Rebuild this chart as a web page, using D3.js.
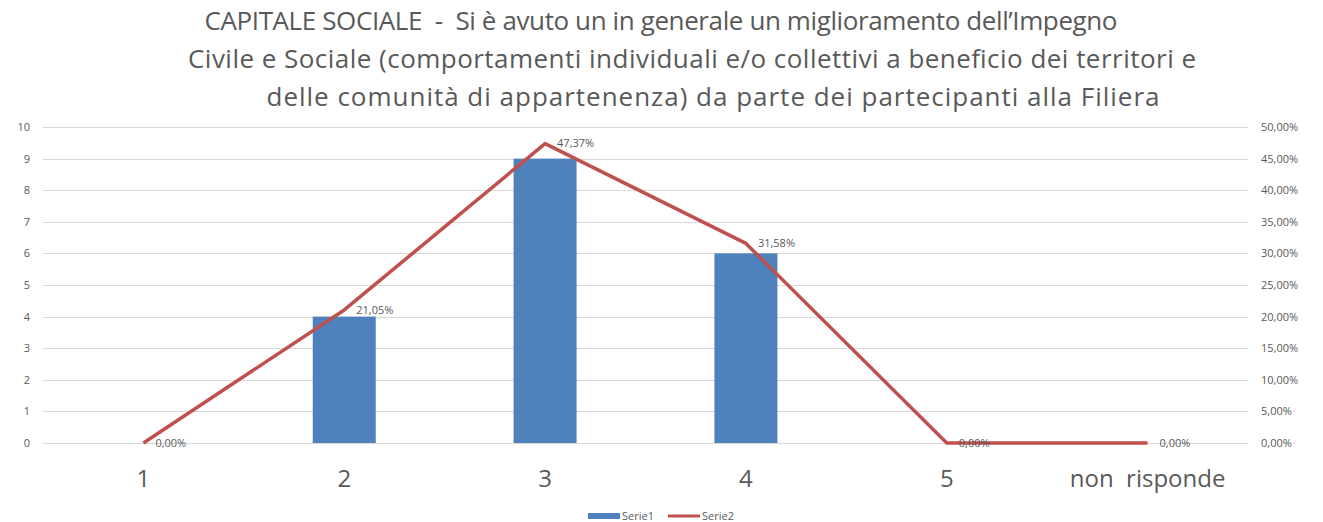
<!DOCTYPE html>
<html>
<head>
<meta charset="utf-8">
<script src="https://cdn.jsdelivr.net/npm/d3@7"></script>
<style>
  body { margin: 0; background: #fff; }
  svg { display: block; font-family: "Open Sans", sans-serif; }
</style>
</head>
<body>
<svg></svg>
<script>
var categories = ['1', '2', '3', '4', '5', 'non  risponde'];
var serie1 = [0, 4, 9, 6, 0, 0];
var serie2 = [0, 0.2105, 0.4737, 0.3158, 0, 0];
var leftTicks = [0, 1, 2, 3, 4, 5, 6, 7, 8, 9, 10];
var rightTicks = [0, 0.05, 0.10, 0.15, 0.20, 0.25, 0.30, 0.35, 0.40, 0.45, 0.50];
var titleLines = [
    'CAPITALE SOCIALE  -  Si è avuto un in generale un miglioramento dell\u2019Impegno',
    'Civile e Sociale (comportamenti individuali e/o collettivi a beneficio dei territori e',
    'delle comunità di appartenenza) da parte dei partecipanti alla Filiera'
];

var WIDTH = 1323, HEIGHT = 522;
var margin = { top: 127, right: 75, bottom: 79, left: 43 },
    width = WIDTH - margin.left - margin.right,
    height = HEIGHT - margin.top - margin.bottom;

var fmtPct = function (v) { return (v * 100).toFixed(2).replace('.', ',') + '%'; };

var svg = d3.select('svg').attr('width', WIDTH).attr('height', HEIGHT);

// title (line widths matched to the reference)
var titleCenters = [661, 692, 713];
var titleWidths = [913, 1008, 893];
svg.selectAll('.title').data(titleLines).enter().append('text')
    .attr('class', 'title')
    .attr('x', function (d, i) { return titleCenters[i]; })
    .attr('y', function (d, i) { return 30 + i * 38; })
    .attr('text-anchor', 'middle')
    .attr('font-size', 26)
    .attr('fill', '#595959')
    .attr('textLength', function (d, i) { return titleWidths[i]; })
    .attr('lengthAdjust', 'spacing')
    .style('white-space', 'pre')
    .text(function (d) { return d; });

var g = svg.append('g').attr('transform', 'translate(' + margin.left + ',' + margin.top + ')');

var x = d3.scaleBand().domain(categories).range([0, width]);
var y = d3.scaleLinear().domain([0, 10]).range([height, 0]);
var y2 = d3.scaleLinear().domain([0, 0.5]).range([height, 0]);

// gridlines
g.selectAll('.grid').data(leftTicks).enter().append('line')
    .attr('x1', 0).attr('x2', width)
    .attr('y1', function (d) { return Math.round(y(d)) + 0.5; })
    .attr('y2', function (d) { return Math.round(y(d)) + 0.5; })
    .attr('stroke', '#d9d9d9');

// left axis
var yAxis = g.append('g')
    .call(d3.axisLeft(y).tickValues(leftTicks).tickSize(0).tickPadding(13));
yAxis.select('.domain').remove();
yAxis.selectAll('text').attr('font-size', 11).attr('fill', '#595959').attr('font-family', '"Open Sans", sans-serif');

// right axis
var y2Axis = g.append('g').attr('transform', 'translate(' + width + ',0)')
    .call(d3.axisRight(y2).tickValues(rightTicks).tickSize(0).tickPadding(13).tickFormat(fmtPct));
y2Axis.select('.domain').remove();
y2Axis.selectAll('text').attr('font-size', 11).attr('fill', '#595959').attr('font-family', '"Open Sans", sans-serif');

// bars
var barW = 63;
g.selectAll('rect.bar').data(serie1).enter().append('rect')
    .attr('class', 'bar')
    .attr('x', function (d, i) { return x(categories[i]) + x.bandwidth() / 2 - barW / 2; })
    .attr('y', function (d) { return y(d); })
    .attr('width', barW)
    .attr('height', function (d) { return height - y(d); })
    .attr('fill', '#4F81BD');

// line
var line = d3.line()
    .x(function (d, i) { return x(categories[i]) + x.bandwidth() / 2; })
    .y(function (d) { return y2(d); });
g.append('path').datum(serie2)
    .attr('d', line)
    .attr('fill', 'none')
    .attr('stroke', '#C0504D')
    .attr('stroke-width', 3.5)
    .attr('stroke-linejoin', 'round');

// data labels
g.selectAll('.dlabel').data(serie2).enter().append('text')
    .attr('class', 'dlabel')
    .attr('x', function (d, i) { return x(categories[i]) + x.bandwidth() / 2 + 12; })
    .attr('y', function (d) { return y2(d); })
    .attr('dy', '0.35em')
    .attr('font-size', 11)
    .attr('fill', '#595959')
    .text(fmtPct);

// x axis labels
var xAxis = g.append('g').attr('transform', 'translate(0,' + height + ')')
    .call(d3.axisBottom(x).tickSize(0).tickPadding(27));
xAxis.select('.domain').remove();
xAxis.selectAll('text').attr('font-size', 24).attr('fill', '#595959').attr('font-family', '"Open Sans", sans-serif')
    .style('white-space', 'pre');

// legend
var legend = svg.append('g').attr('transform', 'translate(588,516)');
legend.append('rect').attr('x', 0).attr('y', -3).attr('width', 32).attr('height', 6).attr('fill', '#4F81BD');
legend.append('text').attr('x', 34).attr('y', 0).attr('dy', '0.35em').attr('font-size', 11).attr('fill', '#595959').text('Serie1');
legend.append('line').attr('x1', 80).attr('x2', 112).attr('y1', 0).attr('y2', 0).attr('stroke', '#C0504D').attr('stroke-width', 3);
legend.append('text').attr('x', 114).attr('y', 0).attr('dy', '0.35em').attr('font-size', 11).attr('fill', '#595959').text('Serie2');
</script>
</body>
</html>
